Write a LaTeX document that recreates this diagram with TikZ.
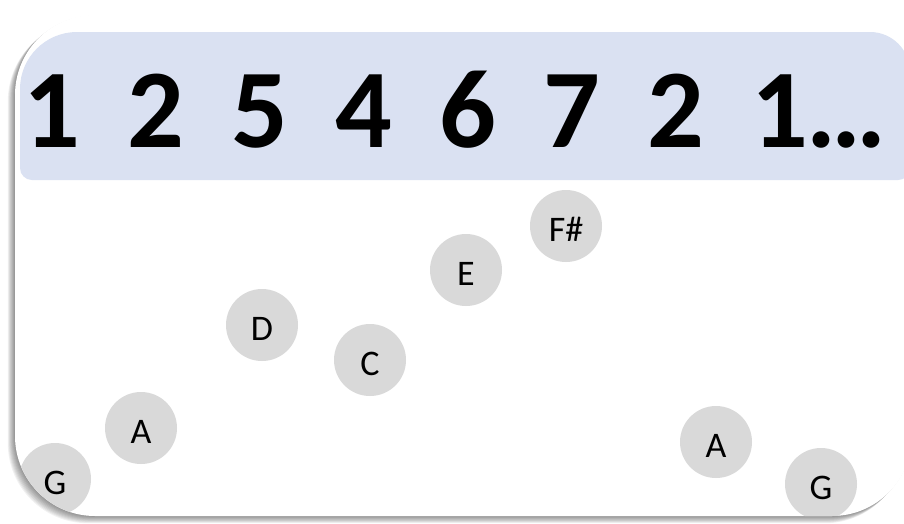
\documentclass[tikz,border=0pt]{standalone}
\usepackage{fontspec}
\setmainfont{Carlito}
\definecolor{bandblue}{HTML}{DAE1F2}
\definecolor{notegray}{HTML}{D9D9D9}
\tikzset{
  note/.style={circle, fill=notegray, minimum size=72pt, inner sep=0pt, text height=30pt, text depth=0pt, font=\fontsize{36}{36}\selectfont, text=black},
  digit/.style={anchor=base, inner sep=0pt, font=\bfseries\fontsize{112}{112}\selectfont, text=black},
  cardshape/.style={rounded corners=80pt}
}
\begin{document}
\begin{tikzpicture}[x=1pt,y=-1pt]
\useasboundingbox (0,0) rectangle (904,523);
% soft shadow to the left and below
\foreach \k in {1,...,9} {
  \fill[black, opacity=0.055, cardshape] (15-0.8*\k,15+0.7*\k) rectangle (912-0.8*\k,516+0.8*\k);
}
% card
\fill[white, cardshape] (15,15) rectangle (912,516);
% band
\fill[bandblue] (910,106) [rounded corners=12pt] -- (910,180) -- (20,180) [rounded corners=57pt] -- (20,32) [rounded corners=40pt] -- (910,32) -- (910,106);
% digits
\foreach \d [count=\i from 0] in {1,2,5,4,6,7,2} {
  \node[digit] (d\i) at (52+104*\i, 147) {\d};
}
\node[digit] (d7) at (52+104*7, 147) {1};
\node[digit, anchor=base west] (dots) at ([xshift=-2pt]d7.base east) {.\kern-5pt.\kern-5pt.};
% notes clipped to card
\begin{scope}
\clip[cardshape] (15,15) rectangle (912,516);
\node[note] (g1) at (55,479) {G};
\node[note] (a1) at (141,428) {A};
\node[note] (d) at (262,325) {D};
\node[note] (c) at (370,360) {C};
\node[note] (e) at (466,270) {E};
\node[note] (fs) at (566,226) {F\#};
\node[note] (a2) at (716,442) {A};
\node[note] (g2) at (821,484) {G};
\end{scope}
\end{tikzpicture}
\end{document}
